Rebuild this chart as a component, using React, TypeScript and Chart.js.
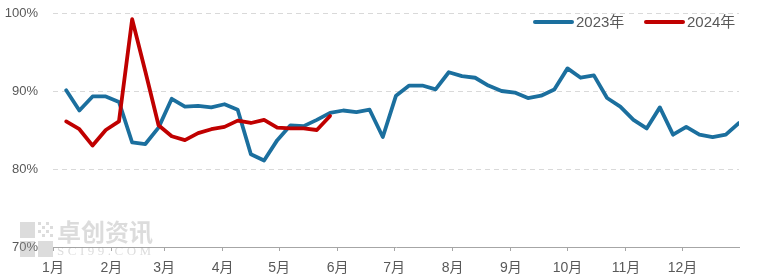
import { useEffect, useRef } from 'react';
import { Chart, registerables } from 'chart.js';

Chart.register(...registerables);

const monthLabels = ['1月', '2月', '3月', '4月', '5月', '6月', '7月', '8月', '9月', '10月', '11月', '12月'];
const monthStartDays = [0, 31, 59, 90, 120, 151, 181, 212, 243, 273, 304, 334];
const yTicks = [70, 80, 90, 100];

const series2023Name = '2023年';
const series2024Name = '2024年';

// weekly operating rates (%)
const rate2023 = [
  90.1, 87.5, 89.3, 89.3, 88.6, 83.4, 83.2, 85.3, 89.0, 88.0,
  88.1, 87.9, 88.3, 87.6, 81.9, 81.1, 83.7, 85.6, 85.5, 86.3,
  87.2, 87.5, 87.3, 87.6, 84.1, 89.4, 90.7, 90.7, 90.2, 92.4,
  91.9, 91.7, 90.7, 90.0, 89.8, 89.1, 89.4, 90.2, 92.9, 91.7,
  92.0, 89.1, 88.0, 86.3, 85.2, 87.9, 84.4, 85.4, 84.4, 84.1,
  84.4, 85.9,
];
const rate2024 = [
  86.1, 85.1, 83.0, 85.0, 86.1, 99.2, 92.5, 85.6, 84.2, 83.7,
  84.6, 85.1, 85.4, 86.2, 85.9, 86.3, 85.3, 85.2, 85.2, 85.0,
  86.8,
];

const FIRST_WEEK_DAY = 7;
const DAYS_PER_WEEK = 7;

const BLUE = '#1b6f9e';
const RED = '#c00000';
const TEXT = '#595959';
const FONT_FAMILY = "'Liberation Sans', 'Noto Sans CJK SC', sans-serif";

const toPoints = (vals: number[]) =>
  vals.map((v, i) => ({ x: FIRST_WEEK_DAY + i * DAYS_PER_WEEK, y: v }));

const overlayPlugin = {
  id: 'overlay',
  afterDraw(chart: any) {
    const ctx = chart.ctx as CanvasRenderingContext2D;
    ctx.save();
    // watermark
    ctx.globalAlpha = 0.35;
    ctx.fillStyle = '#9a9a9a';
    ctx.fillRect(20, 222, 15, 16);
    ctx.fillRect(20, 241, 15, 16);
    ctx.fillRect(38, 241, 15, 16);
    for (let r = 0; r < 4; r++) {
      for (let c = 0; c < 4; c++) {
        if ((r + c) % 2 === 0) ctx.fillRect(38 + c * 4, 222 + r * 4, 3, 3);
      }
    }
    ctx.font = "bold 24px 'Noto Sans CJK SC', sans-serif";
    ctx.textAlign = 'left';
    ctx.textBaseline = 'middle';
    ctx.fillText('卓创资讯', 57, 232);
    ctx.font = "13px 'Liberation Serif', serif";
    (ctx as any).letterSpacing = '3.5px';
    ctx.fillText('SCI99.COM', 57, 252);
    (ctx as any).letterSpacing = '0px';
    ctx.restore();

    // legend
    ctx.save();
    ctx.lineWidth = 4;
    ctx.lineCap = 'round';
    ctx.font = `15px ${FONT_FAMILY}`;
    ctx.textAlign = 'left';
    ctx.textBaseline = 'middle';
    const items = [
      { name: series2023Name, color: BLUE, x: 535 },
      { name: series2024Name, color: RED, x: 646 },
    ];
    items.forEach((it) => {
      ctx.strokeStyle = it.color;
      ctx.beginPath();
      ctx.moveTo(it.x, 22);
      ctx.lineTo(it.x + 37, 22);
      ctx.stroke();
      ctx.fillStyle = TEXT;
      ctx.fillText(it.name, it.x + 41, 23);
    });
    ctx.restore();
  },
};

export default function App() {
  const ref = useRef<HTMLCanvasElement>(null);

  useEffect(() => {
    document.body.style.margin = '0';
    const chart = new Chart(ref.current!, {
      type: 'line',
      data: {
        datasets: [
          {
            label: series2023Name,
            data: toPoints(rate2023),
            borderColor: BLUE,
            backgroundColor: BLUE,
            borderWidth: 3.8,
            pointRadius: 0,
            tension: 0,
            borderJoinStyle: 'round',
            borderCapStyle: 'round',
            order: 2,
          },
          {
            label: series2024Name,
            data: toPoints(rate2024),
            borderColor: RED,
            backgroundColor: RED,
            borderWidth: 3.8,
            pointRadius: 0,
            tension: 0,
            borderJoinStyle: 'round',
            borderCapStyle: 'round',
            order: 1,
          },
        ],
      },
      options: {
        responsive: true,
        maintainAspectRatio: false,
        animation: false,
        layout: { padding: { top: 13, right: 31, left: 0, bottom: 0 } },
        plugins: {
          legend: { display: false },
          tooltip: { enabled: false },
        },
        scales: {
          x: {
            type: 'linear',
            min: 0,
            max: 364,
            afterBuildTicks: (scale: any) => {
              scale.ticks = monthStartDays.map((v) => ({ value: v }));
            },
            afterFit: (scale: any) => {
              scale.height = 33;
            },
            ticks: {
              autoSkip: false,
              maxRotation: 0,
              padding: 9,
              color: TEXT,
              font: { family: FONT_FAMILY, size: 14 },
              callback: (v: any) => {
                const i = monthStartDays.indexOf(Number(v));
                return i >= 0 ? monthLabels[i] : '';
              },
            },
            grid: {
              display: true,
              drawOnChartArea: false,
              drawTicks: true,
              tickLength: 4,
              color: '#a6a6a6',
            },
            border: { display: true, color: '#a6a6a6', width: 1 },
          },
          y: {
            min: 70,
            max: 100,
            afterBuildTicks: (scale: any) => {
              scale.ticks = yTicks.map((v) => ({ value: v }));
            },
            afterFit: (scale: any) => {
              scale.width = 53;
              scale.paddingTop = 0;
              scale.paddingBottom = 0;
            },
            ticks: {
              padding: 15,
              color: TEXT,
              font: { family: FONT_FAMILY, size: 13 },
              callback: (v: any) => `${v}%`,
            },
            grid: {
              drawTicks: false,
              color: (c: any) => (c.tick && c.tick.value === 70 ? 'rgba(0,0,0,0)' : '#d9d9d9'),
              lineWidth: 1,
            },
            border: { display: false, dash: [5, 4] },
          },
        },
      },
      plugins: [overlayPlugin],
    });
    return () => chart.destroy();
  }, []);

  return (
    <div style={{ position: 'relative', width: 770, height: 280 }}>
      <canvas ref={ref} />
    </div>
  );
}
